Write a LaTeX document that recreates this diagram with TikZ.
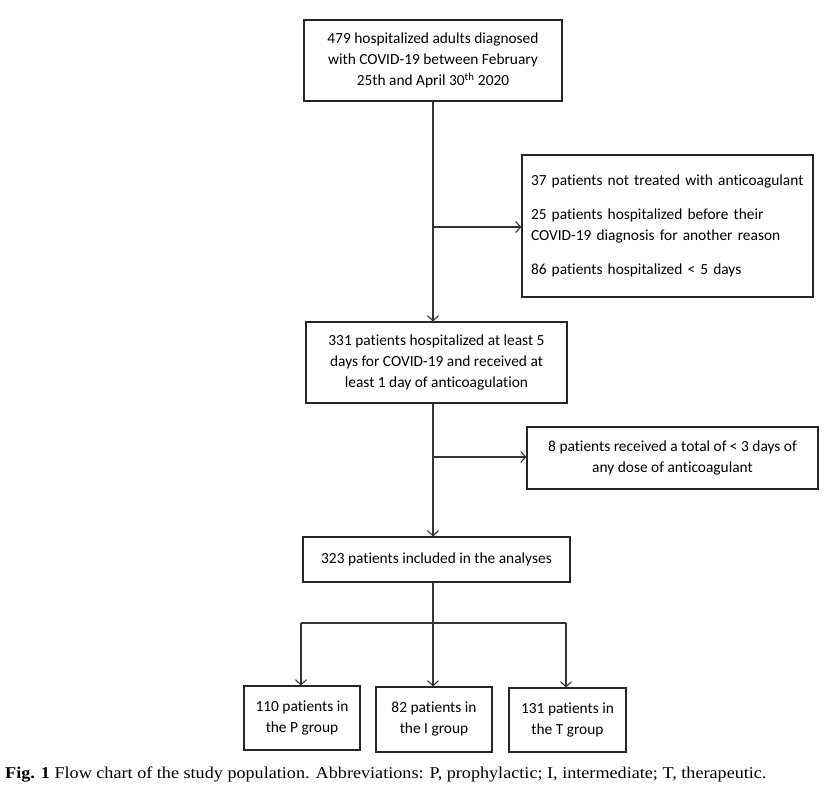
\documentclass[tikz,border=0pt]{standalone}
\usepackage{fontspec}
\setmainfont[Ligatures=NoCommon]{Carlito}
\newfontfamily\capfont[FakeStretch=1.10]{Liberation Serif}
\usetikzlibrary{arrows.meta}
\begin{document}
\begin{tikzpicture}[x=1pt,y=-1pt,
  box/.style={draw=black!85,line width=1.1pt,align=center,inner sep=0pt,
    font=\fontsize{15.4}{21}\selectfont},
  conn/.style={draw=black!80,line width=1.1pt},
  arr/.style={conn,-{Straight Barb[length=5pt,width=11pt,line width=1.1pt]}}]
\useasboundingbox[fill=white] (0,0) rectangle (828,792);
\node[box,minimum width=258pt,minimum height=81pt] (b1) at (433,60.5)
  {479 hospitalized adults diagnosed\\with COVID-19 between February\\25th and April 30\textsuperscript{th} 2020};
\node[box,minimum width=291pt,minimum height=142pt,text width=273pt,align=left] (s1) at (667.5,226)
  {37 patients not treated with anticoagulant\\[13pt]25 patients hospitalized before their\\COVID-19 diagnosis for another reason\\[13pt]86 patients hospitalized < 5 days};
\node[box,minimum width=261pt,minimum height=81pt] (b2) at (436.5,362.5)
  {331 patients hospitalized at least 5\\days for COVID-19 and received at\\least 1 day of anticoagulation};
\node[box,minimum width=291pt,minimum height=62pt] (s2) at (672.5,458)
  {8 patients received a total of < 3 days of\\any dose of anticoagulant};
\node[box,minimum width=267pt,minimum height=45pt] (b3) at (436.5,559.5)
  {323 patients included in the analyses};
\node[box,minimum width=116pt,minimum height=64pt] (gp) at (302,718)
  {110 patients in\\the P group};
\node[box,minimum width=116pt,minimum height=65pt] (gi) at (434,719.5)
  {82 patients in\\the I group};
\node[box,minimum width=117pt,minimum height=64pt] (gt) at (567.5,720)
  {131 patients in\\the T group};
\node[anchor=west,inner sep=0pt,font=\capfont\fontsize{16.5}{18}\selectfont] (cap) at (5,775)
  {\textbf{Fig. 1} Flow chart of the study population. Abbreviations: P, prophylactic; I, intermediate; T, therapeutic.};
% connectors
\coordinate (m1) at (433,227);
\coordinate (m2) at (433,457);
\coordinate (br) at (433,623);
\coordinate (bl) at (301,623);
\coordinate (bt) at (566,623);
\draw[arr] (b1.south) -- (b1.south |- b2.north);
\draw[arr] (m1) -- (m1 -| s1.west);
\draw[arr] (m1 |- b2.south) -- (m1 |- b3.north);
\draw[arr] (m2) -- (m2 -| s2.west);
\draw[conn] (m1 |- b3.south) -- (br);
\draw[conn] (bl) -- (bt);
\draw[arr] (bl) -- (bl |- gp.north);
\draw[arr] (br) -- (br |- gi.north);
\draw[arr] (bt) -- (bt |- gt.north);
\end{tikzpicture}
\end{document}
